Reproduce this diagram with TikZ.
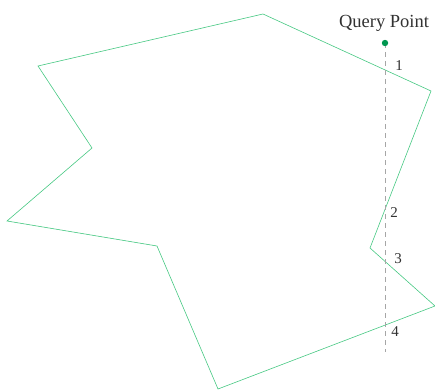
\documentclass[tikz,border=0pt]{standalone}
\usepackage{fontspec}
\setmainfont{Liberation Serif}
\definecolor{polyg}{RGB}{70,200,130}
\definecolor{dotg}{RGB}{0,150,80}
\definecolor{txt}{RGB}{50,50,50}
\begin{document}
\begin{tikzpicture}[x=1pt,y=-1pt,
  poly/.style={draw=polyg,line width=0.6pt,line join=miter},
  ray/.style={draw=gray!70,dashed,line width=0.8pt,dash pattern=on 5pt off 4pt},
  lbl/.style={text=txt,font=\fontsize{15}{17}\selectfont,inner sep=0pt,anchor=base}]
\useasboundingbox (0,0) rectangle (435,390);
\coordinate (p1) at (263,14);
\coordinate (p2) at (431,91);
\coordinate (p3) at (370,248);
\coordinate (p4) at (435,306);
\coordinate (p5) at (218,389);
\coordinate (p6) at (157,246);
\coordinate (p7) at (7,221);
\coordinate (p8) at (92,148);
\coordinate (p9) at (38,66);
\draw[poly] (p1) -- (p2) -- (p3) -- (p4) -- (p5) -- (p6) -- (p7) -- (p8) -- (p9) -- cycle;
\coordinate (q) at (385,43);
\coordinate (qend) at (385,352);
\draw[ray] (q) -- (qend);
\fill[dotg] (q) circle (3.2);
\node[lbl,font=\fontsize{18.5}{20}\selectfont] (qt) at (384,28) {Query Point};
\node[lbl] (l1) at (399,71) {1};
\node[lbl] (l2) at (394,217) {2};
\node[lbl] (l3) at (398,263) {3};
\node[lbl] (l4) at (395,336) {4};
\end{tikzpicture}
\end{document}
